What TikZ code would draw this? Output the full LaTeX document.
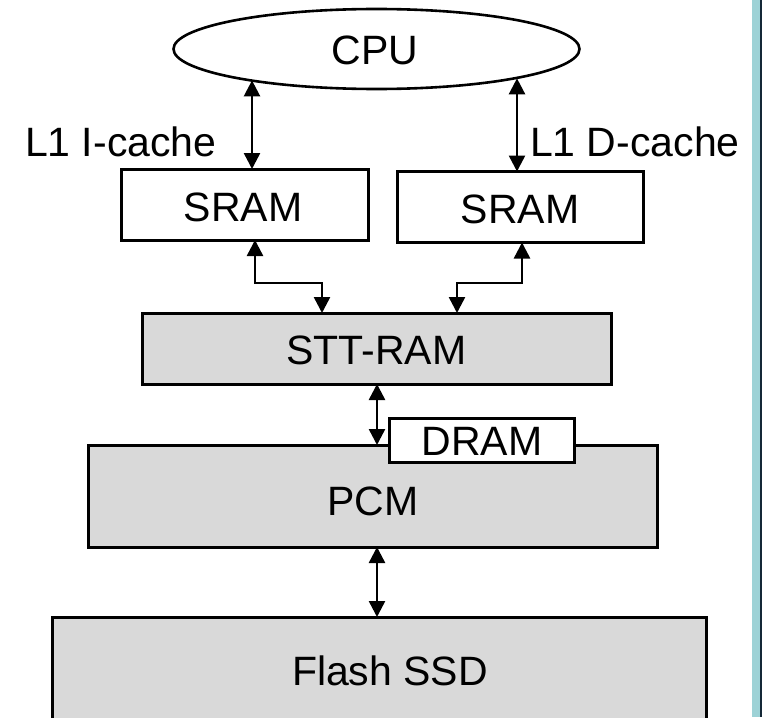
\documentclass[tikz,border=0pt]{standalone}
\usepackage{fontspec}
\setmainfont{Liberation Sans}
\usetikzlibrary{arrows.meta,shapes.geometric}
\definecolor{boxgray}{RGB}{217,217,217}
\definecolor{sidebar}{RGB}{157,210,214}
\definecolor{sideedge}{RGB}{20,40,55}
\tikzset{
  lbl/.style={inner sep=0pt, outer sep=0pt, font=\fontsize{41}{41}\selectfont},
  membox/.style={draw, line width=3pt, rectangle, inner sep=0pt, outer sep=0pt},
  whitebox/.style={membox, fill=white},
  graybox/.style={membox, fill=boxgray},
  biarrow/.style={line width=2.5pt, {Triangle[width=16pt,length=16pt]}-{Triangle[width=16pt,length=16pt]}},
}
\begin{document}
\begin{tikzpicture}[x=1pt, y=-1pt]
\useasboundingbox (0,0) rectangle (762,717);
\clip (0,0) rectangle (762,717);
\fill[white] (0,0) rectangle (762,717);

% side strip
\fill[sidebar] (752,0) rectangle (760,717);
\fill[sideedge] (760,0) rectangle (762,717);

% processor
\node[draw, line width=2.6pt, ellipse, minimum width=406pt, minimum height=80pt,
      inner sep=0pt, outer sep=0pt] (cpu) at (376.5,49) {};
\node[lbl] (cputxt) at (375,50) {CPU};

% L1 caches
\node[whitebox, minimum width=247pt, minimum height=71pt] (ls) at (244.5,204.5) {};
\node[lbl] (lstxt) at (243,207) {SRAM};
\node[whitebox, minimum width=246pt, minimum height=71pt] (rs) at (520,207) {};
\node[lbl] (rstxt) at (520,209) {SRAM};
\node[lbl, anchor=base west] (il1) at (25,156) {L1 I-cache};
\node[lbl, anchor=base west] (dl1) at (530,156) {L1 D-cache};

% lower levels
\node[graybox, minimum width=469pt, minimum height=71pt] (stt) at (376.5,348.5) {};
\node[lbl] (stttxt) at (376.5,350) {STT-RAM};
\node[graybox, minimum width=569pt, minimum height=102pt] (pcm) at (372.5,496) {};
\node[lbl] (pcmtxt) at (373,501) {PCM};
\node[graybox, minimum width=654pt, minimum height=110pt] (flash) at (379,672) {};
\node[lbl] (flashtxt) at (390,671) {Flash SSD};

% DRAM sits over the PCM edge
\node[whitebox, minimum width=185pt, minimum height=44pt] (dram) at (481.5,440) {};
\node[lbl] (dramtxt) at (482,441) {DRAM};

% connector columns and bends
\coordinate (xa) at (252,0);
\coordinate (xb) at (517,0);
\coordinate (bl) at (255,283);
\coordinate (br) at (522,283);
\coordinate (cl) at (322,0);
\coordinate (cr) at (457,0);
\coordinate (xm) at (377,0);

% connectors
\draw[biarrow] (xa |- cpu.194.24) -- (ls.north -| xa);
\draw[biarrow] (xb |- cpu.348.4) -- (rs.north -| xb);
\draw[biarrow] (ls.south -| bl) -- (bl) -| (stt.north -| cl);
\draw[biarrow] (rs.south -| br) -- (br) -| (stt.north -| cr);
\draw[biarrow] (stt.south -| xm) -- (pcm.north -| xm);
\draw[biarrow] (pcm.south -| xm) -- (flash.north -| xm);
\end{tikzpicture}
\end{document}
